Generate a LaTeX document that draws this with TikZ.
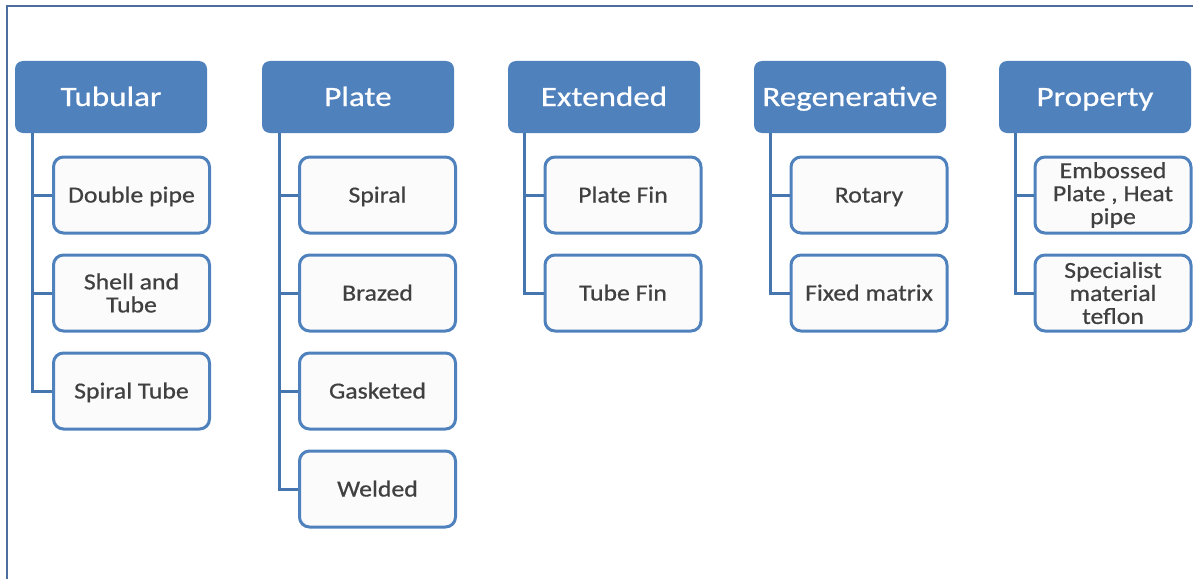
\documentclass[tikz,border=0pt]{standalone}
\usepackage{fontspec}
\newfontfamily\hfont[FakeStretch=1.18,FakeBold=0.6]{Carlito}
\newfontfamily\cfont[FakeStretch=1.12,FakeBold=0.6]{Carlito}
\definecolor{hdr}{HTML}{4F81BD}
\definecolor{bord}{HTML}{4F81BD}
\definecolor{lnk}{HTML}{4576B0}
\definecolor{frm}{HTML}{4C6E9E}
\definecolor{cfill}{HTML}{FBFBFB}
\definecolor{ctext}{HTML}{404040}
\begin{document}
\begin{tikzpicture}[x=1pt,y=-1pt,
  hdrbox/.style={rectangle, rounded corners=8pt, fill=hdr, minimum width=192pt, minimum height=72pt, text=white, font=\hfont\fontsize{28}{30}\selectfont, inner sep=0pt, text height=18pt, text depth=0pt},
  childbox/.style={rectangle, rounded corners=10pt, draw=bord, line width=3pt, fill=cfill, minimum width=156pt, minimum height=76pt, text=ctext, font=\cfont\fontsize{23}{23}\selectfont, align=center, inner sep=2pt},
  single/.style={text height=15pt, text depth=0pt},
  conn/.style={draw=lnk, line width=3pt},
  frame/.style={draw=frm, line width=2pt}]
\useasboundingbox (0,0) rectangle (1193,578);
\draw[frame] (7,580) -- (7,6) -- (1195,6);

% headers
\node[hdrbox] (h1) at (111,97) {Tubular};
\node[hdrbox] (h2) at (358,97) {Plate};
\node[hdrbox] (h3) at (604,97) {Extended};
\node[hdrbox] (h4) at (850,97) {Regenerative};
\node[hdrbox] (h5) at (1095,97) {Property};

% Tubular children
\node[childbox, single] (c11) at (131.5,195) {Double pipe};
\node[childbox] (c12) at (131.5,293) {Shell and\\Tube};
\node[childbox, single] (c13) at (131.5,391) {Spiral Tube};
% Plate children
\node[childbox, single] (c21) at (377.5,195) {Spiral};
\node[childbox, single] (c22) at (377.5,293) {Brazed};
\node[childbox, single] (c23) at (377.5,391) {Gasketed};
\node[childbox, single] (c24) at (377.5,489) {Welded};
% Extended children
\node[childbox, single] (c31) at (623,195) {Plate Fin};
\node[childbox, single] (c32) at (623,293) {Tube Fin};
% Regenerative children
\node[childbox, single] (c41) at (869,195) {Rotary};
\node[childbox, single] (c42) at (869,293) {Fixed matrix};
% Property children
\node[childbox] (c51) at (1113,195) {Embossed\\Plate , Heat\\pipe};
\node[childbox] (c52) at (1113,293) {Specialist\\material\\teflon};

% trunk coordinates
\coordinate (t1) at ([xshift=18pt]h1.south west);
\coordinate (t2) at ([xshift=18pt]h2.south west);
\coordinate (t3) at ([xshift=17pt]h3.south west);
\coordinate (t4) at ([xshift=17pt]h4.south west);
\coordinate (t5) at ([xshift=17pt]h5.south west);

% connectors
\draw[conn] (t1) |- (c13.west);
\draw[conn] (t1 |- c11.west) -- (c11.west);
\draw[conn] (t1 |- c12.west) -- (c12.west);

\draw[conn] (t2) |- (c24.west);
\draw[conn] (t2 |- c21.west) -- (c21.west);
\draw[conn] (t2 |- c22.west) -- (c22.west);
\draw[conn] (t2 |- c23.west) -- (c23.west);

\draw[conn] (t3) |- (c32.west);
\draw[conn] (t3 |- c31.west) -- (c31.west);

\draw[conn] (t4) |- (c42.west);
\draw[conn] (t4 |- c41.west) -- (c41.west);

\draw[conn] (t5) |- (c52.west);
\draw[conn] (t5 |- c51.west) -- (c51.west);
\end{tikzpicture}
\end{document}
